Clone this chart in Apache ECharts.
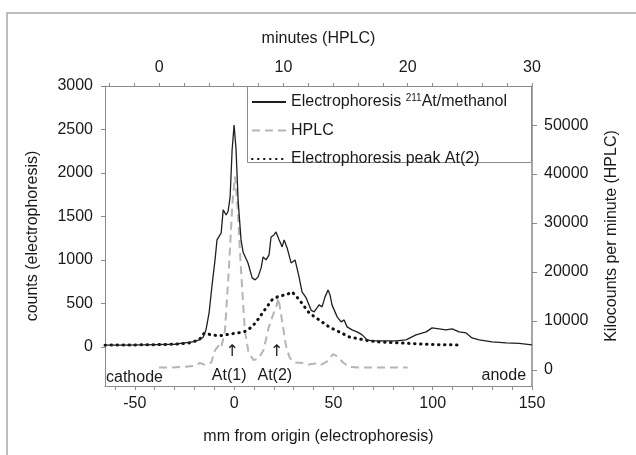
<!DOCTYPE html>
<html>
<head>
<meta charset="utf-8">
<script src="https://cdn.jsdelivr.net/npm/echarts@6/dist/echarts.min.js"></script>
<style>
  html, body { margin: 0; padding: 0; background: #fff; }
  #chart { width: 636px; height: 455px; }
</style>
</head>
<body>
<div id="chart"></div>
<script>
// electrophoresis 211At/methanol (mm from origin, counts)
const elecMm = [-65, -53, -40, -30, -25, -20, -17.6, -15.6, -14.1, -12.6, -11.1, -9.6, -8.6, -6.5, -5.5, -4, -3, -2, -1, 0, 1, 2, 3.5, 4.5, 5.5, 7, 9.1, 10.6, 12.1, 13.6, 14.6, 16.1, 17.6, 18.6, 20.1, 21.1, 22.7, 24.2, 25.2, 26.7, 28.7, 30.7, 31.7, 32.7, 34.2, 36.3, 38.8, 40.3, 41.8, 42.8, 44.3, 45.8, 47.3, 48.3, 49.3, 51.9, 53.9, 55.4, 56.9, 59.4, 61.9, 64.5, 67, 69.5, 74.5, 81.6, 86.6, 91.6, 96.7, 99.7, 103.2, 106.7, 109.8, 113.3, 116.8, 119.8, 123.4, 129.9, 137, 143.5, 150];
const elecCounts = [20, 20, 25, 30, 45, 60, 80, 110, 200, 390, 710, 1000, 1230, 1310, 1575, 1517, 1560, 1724, 2264, 2550, 2264, 1690, 1230, 1092, 1080, 965, 793, 770, 805, 908, 1034, 1000, 1057, 1264, 1287, 1322, 1230, 1150, 1230, 1138, 965, 1000, 977, 805, 632, 563, 420, 402, 450, 483, 460, 575, 655, 598, 483, 345, 287, 310, 230, 195, 172, 138, 80, 70, 70, 70, 80, 138, 172, 218, 207, 195, 207, 172, 160, 103, 80, 57, 46, 40, 23];

// HPLC (minutes, kilocounts per minute)
const hplcMin = [0, 1, 2, 2.8, 3.3, 3.7, 4.2, 4.5, 4.8, 5.0, 5.3, 5.6, 5.9, 6.1, 6.3, 6.6, 6.9, 7.2, 7.6, 8.0, 8.4, 8.8, 9.2, 9.4, 9.6, 9.9, 10.2, 10.5, 10.9, 11.5, 12, 12.6, 13, 13.5, 14.0, 14.3, 14.8, 15.3, 16, 17, 18, 19, 20];
const hplcKcpm = [500, 500, 600, 800, 1400, 1000, 1500, 4000, 5000, 4500, 8000, 20000, 34000, 39500, 34000, 20000, 8000, 3500, 2000, 2300, 4000, 8500, 11500, 12500, 14700, 10000, 5000, 2500, 1500, 1400, 1100, 1300, 1000, 1700, 3200, 2800, 1500, 600, 500, 500, 500, 500, 500];

// electrophoresis peak At(2)
const peakMm = [-65, -53, -40, -30, -22.7, -17.6, -15.1, -11.6, -7.6, -4, 1, 5, 9.1, 12.6, 16.1, 19.1, 22.7, 26.2, 29.2, 32.7, 37.8, 42.8, 47.8, 52.9, 57.9, 62.9, 68, 73, 83, 93.2, 103, 114.8];
const peakCounts = [20, 22, 25, 30, 45, 80, 155, 140, 126, 140, 158, 172, 230, 333, 448, 540, 586, 598, 632, 545, 390, 310, 230, 172, 115, 92, 69, 57, 46, 34, 25, 22];

// tick labels
const mmTicks = [-60, -50, -40, -30, -20, -10, 0, 10, 20, 30, 40, 50, 60, 70, 80, 90, 100, 110, 120, 130, 140, 150];
const mmLabels = [-50, 0, 50, 100, 150];
const minTicks = [-4, -2, 0, 2, 4, 6, 8, 10, 12, 14, 16, 18, 20, 22, 24, 26, 28, 30];
const minLabels = [0, 10, 20, 30];
const countLabels = [0, 500, 1000, 1500, 2000, 2500, 3000];
const kcpmLabels = [0, 10000, 20000, 30000, 40000, 50000];

// annotations inside the plot (mm, counts)
const noteText = ['cathode', '↑', 'At(1)', '↑', 'At(2)', 'anode'];
const noteMm = [-64.5, -1, -2.5, 21.5, 20.5, 147];
const noteCounts = [-350, -60, -325, -60, -325, -325];

const names = ['Electrophoresis 211At/methanol', 'HPLC', 'Electrophoresis peak At(2)'];

const pair = (xs, ys) => xs.map((x, i) => [x, ys[i]]);
const font = 'Liberation Sans, Arial, sans-serif';
const txt = '#1a1a1a';
const axisGray = '#8a8a8a';
const plain = v => String(v);

const chart = echarts.init(document.getElementById('chart'));

const option = {
  backgroundColor: '#fff',
  animation: false,
  textStyle: { fontFamily: font },
  grid: { left: 105, right: 104, top: 86, bottom: 69, containLabel: false },
  graphic: [
    // outer frame of the figure
    { type: 'rect', shape: { x: 7, y: 13, width: 700, height: 500 }, style: { fill: 'none', stroke: '#a8a8a8', lineWidth: 1.5 }, silent: true },
    // legend box
    { type: 'rect', z: 3, shape: { x: 247.5, y: 86.5, width: 284, height: 76 }, style: { fill: '#fff', stroke: '#8a8a8a', lineWidth: 1 }, silent: true }
  ],
  legend: {
    data: names,
    orient: 'vertical',
    left: 251,
    top: 93,
    z: 5,
    itemWidth: 34,
    itemHeight: 14,
    itemGap: 10.5,
    padding: 0,
    itemStyle: { opacity: 0 },
    textStyle: {
      fontFamily: font, fontSize: 16, color: txt, lineHeight: 18,
      rich: {
        sup: { fontFamily: font, fontSize: 10, color: txt, verticalAlign: 'top', lineHeight: 10 }
      }
    },
    formatter: function (name) {
      if (name === names[0]) return 'Electrophoresis {sup|211}At/methanol';
      return name;
    }
  },
  xAxis: [
    {
      type: 'value', position: 'bottom', min: -65, max: 150,
      name: 'mm from origin (electrophoresis)', nameLocation: 'middle', nameGap: 43,
      nameTextStyle: { fontFamily: font, fontSize: 16, color: txt },
      axisLine: { show: true, onZero: false, lineStyle: { color: axisGray, width: 1 } },
      axisTick: { show: true, inside: false, length: 4, customValues: mmTicks, lineStyle: { color: axisGray } },
      axisLabel: { customValues: mmLabels, formatter: plain, fontFamily: font, fontSize: 16, color: txt, margin: 10 },
      splitLine: { show: false }
    },
    {
      type: 'value', position: 'top', min: -4.35, max: 30,
      name: 'minutes (HPLC)', nameLocation: 'middle', nameGap: 39,
      nameTextStyle: { fontFamily: font, fontSize: 16, color: txt },
      axisLine: { show: true, onZero: false, lineStyle: { color: axisGray, width: 1 } },
      axisTick: { show: true, inside: false, length: 3, customValues: minTicks, lineStyle: { color: axisGray } },
      axisLabel: { customValues: minLabels, formatter: plain, fontFamily: font, fontSize: 16, color: txt, margin: 10 },
      splitLine: { show: false }
    }
  ],
  yAxis: [
    {
      type: 'value', position: 'left', min: -450, max: 3000,
      name: 'counts (electrophoresis)', nameLocation: 'middle', nameGap: 64, nameRotate: 90,
      nameTextStyle: { fontFamily: font, fontSize: 16, color: txt },
      axisLine: { show: true, onZero: false, lineStyle: { color: axisGray, width: 1 } },
      axisTick: { show: true, inside: false, length: 4, customValues: countLabels, lineStyle: { color: axisGray } },
      axisLabel: { customValues: countLabels, formatter: plain, fontFamily: font, fontSize: 16, color: txt, margin: 12 },
      splitLine: { show: false }
    },
    {
      type: 'value', position: 'right', min: -3300, max: 58000,
      name: 'Kilocounts per minute (HPLC)', nameLocation: 'middle', nameGap: 72, nameRotate: 90,
      nameTextStyle: { fontFamily: font, fontSize: 16, color: txt },
      axisLine: { show: true, onZero: false, lineStyle: { color: axisGray, width: 1.5 } },
      axisTick: { show: true, inside: false, length: 5, customValues: kcpmLabels, lineStyle: { color: axisGray } },
      axisLabel: { customValues: kcpmLabels, formatter: plain, fontFamily: font, fontSize: 16, color: txt, margin: 12 },
      splitLine: { show: false }
    }
  ],
  series: [
    {
      name: names[1], type: 'line', xAxisIndex: 1, yAxisIndex: 1,
      data: pair(hplcMin, hplcKcpm), symbol: 'none', z: 2,
      lineStyle: { color: '#b5b5b5', width: 2, type: [8, 5] },
      itemStyle: { color: '#b5b5b5' }
    },
    {
      name: names[2], type: 'line', xAxisIndex: 0, yAxisIndex: 0,
      data: pair(peakMm, peakCounts), symbol: 'none', z: 3,
      lineStyle: { color: '#111', width: 3, type: [0.5, 5.5], cap: 'round' },
      itemStyle: { color: '#111' }
    },
    {
      name: names[0], type: 'line', xAxisIndex: 0, yAxisIndex: 0,
      data: pair(elecMm, elecCounts), symbol: 'none', z: 4,
      lineStyle: { color: '#1f1f1f', width: 1.3 },
      itemStyle: { color: '#1f1f1f' }
    },
    {
      name: 'notes', type: 'scatter', xAxisIndex: 0, yAxisIndex: 0,
      symbolSize: 0, silent: true, z: 5,
      itemStyle: { opacity: 1 },
      data: noteText.map((t, i) => ({
        value: [noteMm[i], noteCounts[i]],
        label: {
          show: true, position: 'inside', formatter: t,
          align: i === 0 ? 'left' : (i === noteText.length - 1 ? 'right' : 'center'),
          fontFamily: t === '↑' ? 'DejaVu Sans, sans-serif' : font,
          fontSize: 16, color: txt, textBorderWidth: 0
        }
      }))
    }
  ]
};

chart.setOption(option);
</script>
</body>
</html>
